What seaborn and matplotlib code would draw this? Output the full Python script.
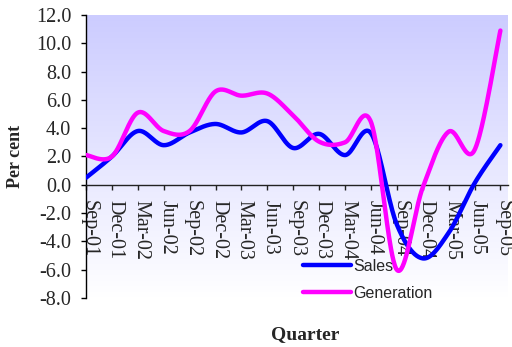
import numpy as np
import pandas as pd
import matplotlib
matplotlib.use("Agg")
import matplotlib.pyplot as plt
import matplotlib.transforms as mtransforms
import seaborn as sns

# Quarterly growth, per cent
quarters = ["Sep-01", "Dec-01", "Mar-02", "Jun-02", "Sep-02", "Dec-02", "Mar-03",
            "Jun-03", "Sep-03", "Dec-03", "Mar-04", "Jun-04", "Sep-04", "Dec-04",
            "Mar-05", "Jun-05", "Sep-05"]
sales = [0.5, 2.0, 3.8, 2.8, 3.7, 4.3, 3.7, 4.5, 2.6, 3.6, 2.1, 3.65, -2.8, -5.2,
         -3.4, 0.1, 2.8]
generation = [2.1, 2.0, 5.1, 3.8, 3.8, 6.6, 6.3, 6.45, 4.9, 3.05, 3.0, 4.45, -6.0,
              -0.2, 3.75, 2.45, 10.9]
y_ticks = [-8, -6, -4, -2, 0, 2, 4, 6, 8, 10, 12]
y_tick_labels = ["-8.0", "-6.0", "-4.0", "-2.0", "0.0", "2.0", "4.0", "6.0",
                 "8.0", "10.0", "12.0"]


def smooth_curve(values, steps=40):
    """Smoothed line through every value (cubic Bezier, Catmull-Rom style)."""
    y = np.asarray(values, dtype=float)
    x = np.arange(len(y), dtype=float)
    n = len(y)
    xs, ys = [], []
    t = np.linspace(0, 1, steps, endpoint=False)
    for i in range(n - 1):
        i0, i3 = max(i - 1, 0), min(i + 2, n - 1)
        p0 = np.array([x[i], y[i]])
        p3 = np.array([x[i + 1], y[i + 1]])
        p1 = p0 + (np.array([x[i + 1], y[i + 1]]) - np.array([x[i0], y[i0]])) / 6
        p2 = p3 - (np.array([x[i3], y[i3]]) - np.array([x[i], y[i]])) / 6
        b = ((1 - t) ** 3)[:, None] * p0 + (3 * (1 - t) ** 2 * t)[:, None] * p1 \
            + (3 * (1 - t) * t ** 2)[:, None] * p2 + (t ** 3)[:, None] * p3
        xs.append(b[:, 0])
        ys.append(b[:, 1])
    xs.append([x[-1]])
    ys.append([y[-1]])
    return np.concatenate(xs), np.concatenate(ys)


frames = []
for name, vals in [("Sales", sales), ("Generation", generation)]:
    sx, sy = smooth_curve(vals)
    frames.append(pd.DataFrame({"q": sx, "pct": sy, "series": name}))
df = pd.concat(frames, ignore_index=True)

sns.set_theme(style="white")
plt.rcParams["font.family"] = ["Liberation Serif", "DejaVu Serif"]

W, H = 512, 347
fig = plt.figure(figsize=(W / 100, H / 100), dpi=100)
left, right, top, bottom = 86, 508, 15, 298
ax = fig.add_axes([left / W, 1 - bottom / H, (right - left) / W, (bottom - top) / H])

x_max = 16 + (right - 500.4) / 25.9
ax.set_xlim(0, x_max)
ax.set_ylim(-8, 12)

# lavender-to-white background of the plot area
grad = np.linspace(0, 1, 256)[:, None]
top_c = np.array([204, 204, 255]) / 255
bot_c = np.array([255, 255, 255]) / 255
img = top_c[None, None, :] * (1 - grad[:, :, None]) + bot_c[None, None, :] * grad[:, :, None]
ax.imshow(img, extent=[0, x_max, -8, 12], aspect="auto", origin="upper", zorder=0)

sns.lineplot(data=df, x="q", y="pct", hue="series", sort=False, estimator=None,
             palette={"Sales": "#0000FF", "Generation": "#FF00FF"},
             linewidth=3.2, ax=ax, zorder=3, legend=False)
for ln in ax.get_lines():
    ln.set_solid_capstyle("round")

# axes: left spine plus a category axis crossing at zero
for s in ["top", "right"]:
    ax.spines[s].set_visible(False)
ax.spines["left"].set_color("black")
ax.spines["left"].set_linewidth(1.0)
ax.spines["bottom"].set_position(("data", 0))
ax.spines["bottom"].set_color("#222222")
ax.spines["bottom"].set_linewidth(1.0)

ax.set_yticks(y_ticks)
ax.set_yticklabels(y_tick_labels)
ax.set_xticks(range(len(quarters)))
ax.set_xticklabels(quarters, rotation=-90, ha="center", va="top")
ax.tick_params(axis="y", direction="out", length=3.6, width=1, color="black",
               labelsize=14.5, pad=7, left=True)
ax.tick_params(axis="x", direction="out", length=3.6, width=1, color="#222222",
               labelsize=14.5, pad=7, bottom=True)
shift = mtransforms.ScaledTranslation(3 / 100, 0, fig.dpi_scale_trans)
for lab in ax.get_xticklabels():
    lab.set_transform(lab.get_transform() + shift)

ax.set_ylabel("Per cent", fontsize=13, fontweight="bold", va="center")
ax.yaxis.set_label_coords((15.5 - left) / (right - left), 0.5)
ax.set_xlabel("Quarter", fontsize=14, fontweight="bold", va="center")
ax.xaxis.set_label_coords((305 - left) / (right - left), (bottom - 335) / (bottom - top))

handles = [plt.Line2D([], [], color="#0000FF", lw=3.2),
           plt.Line2D([], [], color="#FF00FF", lw=3.2)]
leg = fig.legend(handles, ["Sales", "Generation"], loc="upper left",
                 bbox_to_anchor=(303 / W, 1 - 259 / H), frameon=False, borderpad=0,
                 borderaxespad=0, handlelength=3.0, handletextpad=0.12,
                 labelspacing=0.75, prop={"family": "Liberation Sans", "size": 11.5})

fig.savefig("out.png", dpi=100)
